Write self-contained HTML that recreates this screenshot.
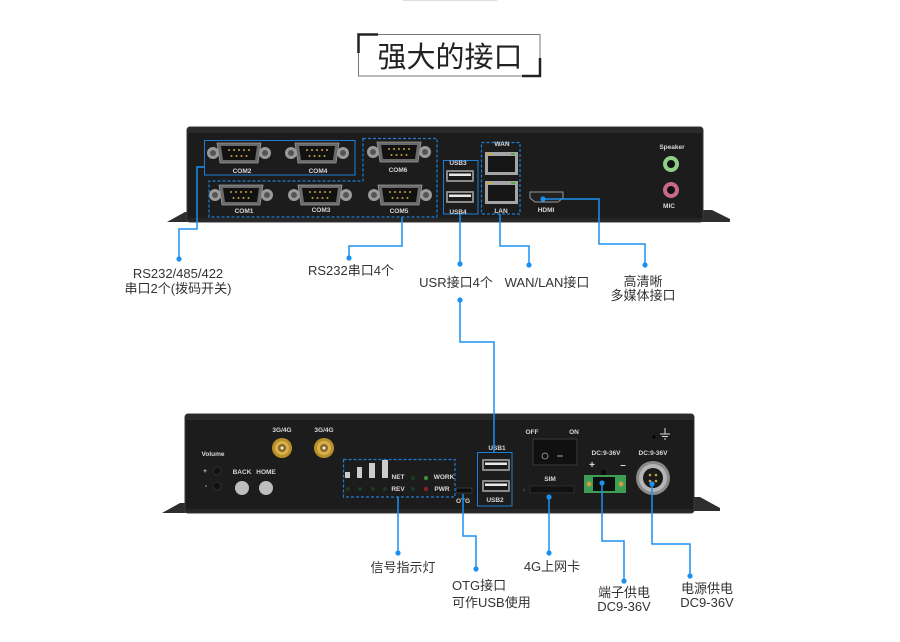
<!DOCTYPE html>
<html><head><meta charset="utf-8">
<style>
html,body{margin:0;padding:0;background:#fff;}
svg{display:block;}
.lbl{font-family:"Liberation Sans","Noto Sans CJK SC",sans-serif;font-size:13px;fill:#333;}
.dl{font-family:"Liberation Sans Narrow","Liberation Sans",sans-serif;font-size:6.5px;font-weight:bold;fill:#d8d8d8;}
.ln{fill:none;stroke:#1a90f0;stroke-width:1.5;}
.dot{fill:#1a90f0;}
</style></head>
<body>
<svg width="900" height="642" viewBox="0 0 900 642" xmlns="http://www.w3.org/2000/svg">
<defs>
<g id="db9">
  <circle cx="-26" cy="0" r="6" fill="#9a9a9a"/><circle cx="-26" cy="0" r="3" fill="#555"/>
  <circle cx="26" cy="0" r="6" fill="#9a9a9a"/><circle cx="26" cy="0" r="3" fill="#555"/>
  <path d="M-22,-10 L22,-10 L19,10 L-19,10 Z" fill="#6a6a6a" stroke="#999" stroke-width="0.8"/>
  <path d="M-18,-7 L18,-7 L16,7 L-16,7 Z" fill="#111"/>
  <g fill="#c9a040">
   <circle cx="-10" cy="-3" r="1"/><circle cx="-5" cy="-3" r="1"/><circle cx="0" cy="-3" r="1"/><circle cx="5" cy="-3" r="1"/><circle cx="10" cy="-3" r="1"/>
   <circle cx="-7.5" cy="3" r="1"/><circle cx="-2.5" cy="3" r="1"/><circle cx="2.5" cy="3" r="1"/><circle cx="7.5" cy="3" r="1"/>
  </g>
</g>
<g id="usb">
  <rect x="-14" y="-6" width="28" height="12" rx="1" fill="#8a8a8a"/>
  <rect x="-12" y="-4" width="24" height="8" fill="#1a1a1a"/>
  <rect x="-11" y="-2.5" width="22" height="2.5" fill="#e8e8e8"/>
</g>
<g id="rj">
  <rect x="0" y="0" width="33" height="23" fill="#a5a5a5"/>
  <rect x="3" y="4" width="27" height="16" fill="#151515"/>
  <rect x="3" y="1" width="4" height="2" fill="#c8b030"/>
  <rect x="26" y="1" width="4" height="2" fill="#50b040"/>
</g>
<g id="ant">
  <circle r="10" fill="#b8902a"/><circle r="7" fill="#d8b050"/><circle r="4" fill="#8a6a20"/><circle r="1.5" fill="#eee"/>
</g>
</defs>

<!-- top faint line -->
<rect x="403" y="0" width="94" height="1" fill="#ddd"/>

<!-- title -->
<rect x="358.5" y="34.5" width="181.5" height="41.5" fill="none" stroke="#777" stroke-width="1"/>
<path d="M358.5,53 V34.5 H378" fill="none" stroke="#222" stroke-width="2.5"/>
<path d="M540,58 V76 H522" fill="none" stroke="#222" stroke-width="2.5"/>
<text x="450" y="67" text-anchor="middle" font-family="'Noto Sans CJK SC',sans-serif" font-size="29" fill="#222">强大的接口</text>

<!-- ===== TOP DEVICE ===== -->
<polygon points="167,222 185,212 192,212 192,222" fill="#2e2e2e"/>
<polygon points="700,210 712,210 730,219 730,222 700,222" fill="#2e2e2e"/>
<rect x="187" y="127" width="516" height="95" rx="3" fill="#1c1c1c" stroke="#3a3a3a" stroke-width="1"/>
<rect x="188" y="128" width="514" height="5" fill="#2a2a2a"/>
<rect x="188" y="218" width="514" height="3" fill="#262626"/>

<use href="#db9" x="239" y="153"/>
<use href="#db9" x="317" y="153"/>
<use href="#db9" x="399" y="152"/>
<use href="#db9" x="241" y="195"/>
<use href="#db9" x="320" y="195"/>
<use href="#db9" x="400" y="195"/>
<text class="dl" x="242" y="173" text-anchor="middle">COM2</text>
<text class="dl" x="318" y="173" text-anchor="middle">COM4</text>
<text class="dl" x="398" y="172" text-anchor="middle">COM6</text>
<text class="dl" x="244" y="213" text-anchor="middle">COM1</text>
<text class="dl" x="321" y="212" text-anchor="middle">COM3</text>
<text class="dl" x="399" y="213" text-anchor="middle">COM5</text>

<rect x="204.5" y="140.5" width="150.5" height="34.5" fill="none" stroke="#1a7fd4" stroke-width="1"/>
<polygon points="363,138.5 437,138.5 437,217 209,217 209,181 363,181" fill="none" stroke="#1a7fd4" stroke-width="1.2" stroke-dasharray="3,2"/>

<!-- USB3/4 -->
<rect x="443.5" y="160.5" width="34.5" height="53.5" fill="none" stroke="#1a7fd4" stroke-width="1"/>
<text class="dl" x="458" y="165" text-anchor="middle">USB3</text>
<text class="dl" x="458" y="214" text-anchor="middle">USB4</text>
<use href="#usb" x="460" y="176"/>
<use href="#usb" x="460" y="197"/>

<!-- WAN/LAN -->
<rect x="481.5" y="142.5" width="38.5" height="71.5" fill="none" stroke="#1a7fd4" stroke-width="1.2" stroke-dasharray="3,2"/>
<text class="dl" x="502" y="146" text-anchor="middle">WAN</text>
<text class="dl" x="501" y="213" text-anchor="middle">LAN</text>
<use href="#rj" x="485" y="152"/>
<use href="#rj" x="485" y="181"/>

<!-- HDMI -->
<path d="M530,192 L563,192 L563,198 L558,202 L535,202 L530,198 Z" fill="#222" stroke="#999" stroke-width="1"/>
<text class="dl" x="546" y="212" text-anchor="middle">HDMI</text>

<!-- audio -->
<text class="dl" x="672" y="149" text-anchor="middle">Speaker</text>
<circle cx="671" cy="164" r="8" fill="#8fcf86"/><circle cx="671" cy="164" r="4" fill="#111"/>
<circle cx="671" cy="190" r="8" fill="#c86a86"/><circle cx="671" cy="190" r="4" fill="#111"/>
<text class="dl" x="669" y="208" text-anchor="middle">MIC</text>

<!-- ===== BOTTOM DEVICE ===== -->
<polygon points="162,513 180,503 188,503 188,513" fill="#2e2e2e"/>
<polygon points="690,497 700,497 720,508 720,511 690,511" fill="#2e2e2e"/>
<rect x="185" y="414" width="509" height="99" rx="3" fill="#1c1c1c" stroke="#3a3a3a" stroke-width="1"/>
<rect x="186" y="415" width="507" height="5" fill="#2a2a2a"/>
<rect x="186" y="509" width="507" height="3" fill="#262626"/>

<text class="dl" x="213" y="456" text-anchor="middle">Volume</text>
<text class="dl" x="205" y="473" text-anchor="middle">+</text>
<text class="dl" x="206" y="488" text-anchor="middle">-</text>
<circle cx="217" cy="471" r="4" fill="#111" stroke="#333" stroke-width="0.8"/>
<circle cx="217" cy="486" r="4" fill="#111" stroke="#333" stroke-width="0.8"/>
<text class="dl" x="242" y="474" text-anchor="middle">BACK</text>
<text class="dl" x="266" y="474" text-anchor="middle">HOME</text>
<circle cx="242" cy="488" r="7" fill="#bdbdbd"/>
<circle cx="266" cy="488" r="7" fill="#bdbdbd"/>

<text class="dl" x="282" y="432" text-anchor="middle">3G/4G</text>
<text class="dl" x="324" y="432" text-anchor="middle">3G/4G</text>
<use href="#ant" x="282" y="448"/>
<use href="#ant" x="324" y="448"/>

<!-- indicators -->
<rect x="343.5" y="459.5" width="111.5" height="37.5" fill="none" stroke="#1a7fd4" stroke-width="1.2" stroke-dasharray="3,2"/>
<rect x="345" y="472" width="5" height="6" fill="#ccc"/>
<rect x="357" y="467" width="5" height="11" fill="#ccc"/>
<rect x="369" y="463" width="6" height="15" fill="#ccc"/>
<rect x="382" y="460" width="6" height="18" fill="#ccc"/>
<g fill="#1f3a1f">
<circle cx="348" cy="489" r="2"/><circle cx="360" cy="489" r="2"/><circle cx="373" cy="489" r="2"/><circle cx="385" cy="489" r="2"/>
<circle cx="413" cy="478" r="2"/><circle cx="413" cy="489" r="2"/>
</g>
<circle cx="426" cy="478" r="2.2" fill="#3d8a3d"/>
<circle cx="426" cy="489" r="2.2" fill="#8a2020"/>
<text class="dl" x="398" y="479" text-anchor="middle">NET</text>
<text class="dl" x="398" y="491" text-anchor="middle">REV</text>
<text class="dl" x="444" y="479" text-anchor="middle">WORK</text>
<text class="dl" x="442" y="491" text-anchor="middle">PWR</text>

<!-- OTG -->
<rect x="456" y="488" width="16" height="5" rx="2" fill="#0c0c0c" stroke="#444" stroke-width="0.8"/>
<text class="dl" x="463" y="503" text-anchor="middle">OTG</text>

<!-- USB1/2 -->
<rect x="477.5" y="452.5" width="34.5" height="53.5" fill="none" stroke="#1a7fd4" stroke-width="1"/>
<use href="#usb" x="496" y="465"/>
<use href="#usb" x="496" y="486"/>
<text class="dl" x="497" y="450" text-anchor="middle">USB1</text>
<text class="dl" x="495" y="502" text-anchor="middle">USB2</text>

<!-- switch -->
<text class="dl" x="532" y="434" text-anchor="middle">OFF</text>
<text class="dl" x="574" y="434" text-anchor="middle">ON</text>
<rect x="533" y="439" width="44" height="26" fill="#101010" stroke="#3a3a3a" stroke-width="1"/>
<circle cx="545" cy="456" r="3" fill="none" stroke="#aaa" stroke-width="0.8"/>
<rect x="557" y="455.5" width="6" height="1" fill="#aaa"/>

<!-- SIM -->
<text class="dl" x="550" y="481" text-anchor="middle">SIM</text>
<rect x="530" y="486" width="44" height="7" fill="#111" stroke="#333" stroke-width="0.8"/>
<circle cx="524" cy="490" r="1.5" fill="#333"/>

<!-- terminal -->
<text class="dl" x="606" y="455" text-anchor="middle">DC:9-36V</text>
<text x="592" y="468" text-anchor="middle" font-family="Liberation Sans,sans-serif" font-size="10" fill="#ddd" font-weight="bold">+</text>
<text x="623" y="468" text-anchor="middle" font-family="Liberation Sans,sans-serif" font-size="10" fill="#ddd" font-weight="bold">–</text>
<rect x="601" y="470" width="5" height="5" fill="#0a0a0a"/>
<rect x="584" y="475" width="42" height="18" fill="#3d9d55"/>
<rect x="593" y="477" width="22" height="14" fill="#0f0f0f"/>
<circle cx="589" cy="484" r="2.5" fill="#c8a040"/>
<circle cx="621" cy="484" r="2.5" fill="#c8a040"/>

<!-- ground & power -->
<circle cx="654" cy="437" r="1.5" fill="#000"/>
<path d="M665,428 V434 M660,434 H670 M662,436.5 H668 M664,439 H666" stroke="#ddd" stroke-width="1" fill="none"/>
<text class="dl" x="653" y="455" text-anchor="middle">DC:9-36V</text>
<circle cx="653" cy="478" r="17" fill="#8a8a8a"/>
<circle cx="653" cy="478" r="14" fill="#b5b5b5"/>
<circle cx="653" cy="478" r="10" fill="#1a1a1a"/>
<g fill="#c8a040"><circle cx="650" cy="475" r="1.3"/><circle cx="656" cy="475" r="1.3"/><circle cx="650" cy="481" r="1.3"/><circle cx="656" cy="481" r="1.3"/></g>

<!-- ===== CONNECTOR LINES ===== -->
<polyline class="ln" points="204,167 197,167 197,229 179,229 179,259"/><circle class="dot" cx="179" cy="259" r="2.6"/>
<polyline class="ln" points="402,217 402,246 349,246 349,258"/><circle class="dot" cx="349" cy="258" r="2.6"/>
<polyline class="ln" points="460,214 460,264"/><circle class="dot" cx="460" cy="264" r="2.6"/>
<polyline class="ln" points="500,214 500,246 529,246 529,265"/><circle class="dot" cx="529" cy="265" r="2.6"/>
<circle class="dot" cx="543" cy="199" r="2.6"/><polyline class="ln" points="543,199 599,199 599,244 645,244 645,265"/><circle class="dot" cx="645" cy="265" r="2.6"/>
<circle class="dot" cx="460" cy="300" r="2.6"/><polyline class="ln" points="460,300 460,342 494,342 494,452"/>
<polyline class="ln" points="398,497 398,553"/><circle class="dot" cx="398" cy="553" r="2.6"/>
<polyline class="ln" points="463,494 463,536 476,536 476,569"/><circle class="dot" cx="476" cy="569" r="2.6"/>
<circle class="dot" cx="549" cy="497" r="2.6"/><polyline class="ln" points="549,497 549,553"/><circle class="dot" cx="549" cy="553" r="2.6"/>
<circle class="dot" cx="602" cy="483" r="2.6"/><polyline class="ln" points="602,483 602,541 624,541 624,581"/><circle class="dot" cx="624" cy="581" r="2.6"/>
<circle class="dot" cx="652" cy="484" r="2.6"/><polyline class="ln" points="652,484 652,544 690,544 690,576"/><circle class="dot" cx="690" cy="576" r="2.6"/>

<!-- ===== LABELS ===== -->
<text class="lbl" x="178" y="278" text-anchor="middle">RS232/485/422</text>
<text class="lbl" x="178" y="293" text-anchor="middle">串口2个(拨码开关)</text>
<text class="lbl" x="351" y="275" text-anchor="middle">RS232串口4个</text>
<text class="lbl" x="456" y="287" text-anchor="middle">USR接口4个</text>
<text class="lbl" x="547" y="287" text-anchor="middle">WAN/LAN接口</text>
<text class="lbl" x="643" y="286" text-anchor="middle">高清晰</text>
<text class="lbl" x="643" y="300" text-anchor="middle">多媒体接口</text>
<text class="lbl" x="403" y="572" text-anchor="middle">信号指示灯</text>
<text class="lbl" x="452" y="590">OTG接口</text>
<text class="lbl" x="452" y="607">可作USB使用</text>
<text class="lbl" x="552" y="571" text-anchor="middle">4G上网卡</text>
<text class="lbl" x="624" y="597" text-anchor="middle">端子供电</text>
<text class="lbl" x="624" y="611" text-anchor="middle" font-size="14">DC9-36V</text>
<text class="lbl" x="707" y="593" text-anchor="middle">电源供电</text>
<text class="lbl" x="707" y="607" text-anchor="middle" font-size="14">DC9-36V</text>
</svg>
</body></html>
